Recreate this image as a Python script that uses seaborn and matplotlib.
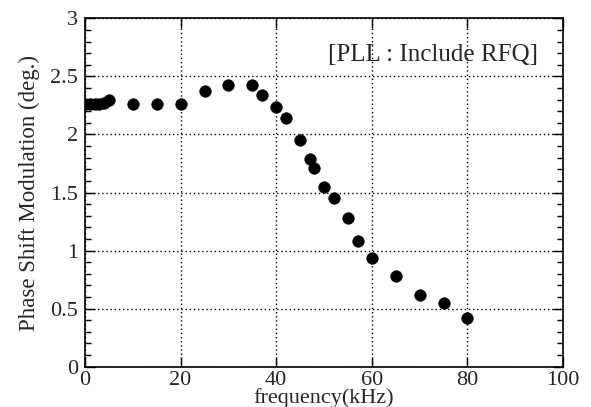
import matplotlib
matplotlib.use("Agg")
import matplotlib.pyplot as plt
import seaborn as sns
import pandas as pd
from matplotlib.ticker import MultipleLocator

freq_khz = [0, 1, 2, 3, 4, 5, 10, 15, 20, 25, 30, 35, 37, 40, 42, 45, 47, 48,
            50, 52, 55, 57, 60, 65, 70, 75, 80]
phase_deg = [2.26, 2.26, 2.26, 2.26, 2.27, 2.30, 2.26, 2.26, 2.26, 2.37, 2.43,
             2.43, 2.34, 2.24, 2.14, 1.95, 1.79, 1.71, 1.55, 1.45, 1.28, 1.08,
             0.94, 0.78, 0.62, 0.55, 0.42]
x_ticks = [0, 20, 40, 60, 80, 100]
y_ticks = [0, 0.5, 1, 1.5, 2, 2.5, 3]
y_tick_labels = ["0", "0.5", "1", "1.5", "2", "2.5", "3"]

sns.set_style("white")
plt.rcParams['font.family'] = ['Liberation Serif', 'DejaVu Serif']

df = pd.DataFrame({"freq": freq_khz, "phase": phase_deg})

fig = plt.figure(figsize=(5.91, 4.07), dpi=100)
ax = fig.add_axes([0.1438, 0.099, 0.809, 0.856])

sns.scatterplot(data=df, x="freq", y="phase", ax=ax, color="black",
                s=72, edgecolor="black", linewidth=0.3, zorder=3)

ax.set_xlim(0, 100)
ax.set_ylim(0, 3)
ax.set_xticks(x_ticks)
ax.set_yticks(y_ticks)
ax.set_yticklabels(y_tick_labels)
ax.yaxis.set_minor_locator(MultipleLocator(0.1))
ax.grid(True, which="major", color="black", linestyle=(0, (1, 2)), linewidth=1.0)
ax.tick_params(which="both", direction="in", top=True, right=True,
               left=True, bottom=True, labelsize=16, color="black")
ax.tick_params(axis="y", pad=5)
ax.tick_params(axis="x", pad=3)
ax.tick_params(which="major", length=7, width=1)
ax.tick_params(which="minor", length=4, width=1)
for sp in ax.spines.values():
    sp.set_color("black")
    sp.set_linewidth(1.2)

ax.set_xlabel("frequency(kHz)", fontsize=16, labelpad=-1)
ax.set_ylabel("Phase Shift Modulation (deg.)", fontsize=16.5, labelpad=7)

ax.text(0.948, 0.895, "[PLL : Include RFQ]", transform=ax.transAxes,
        ha="right", va="center", fontsize=18)

fig.savefig("out.png", dpi=100)
